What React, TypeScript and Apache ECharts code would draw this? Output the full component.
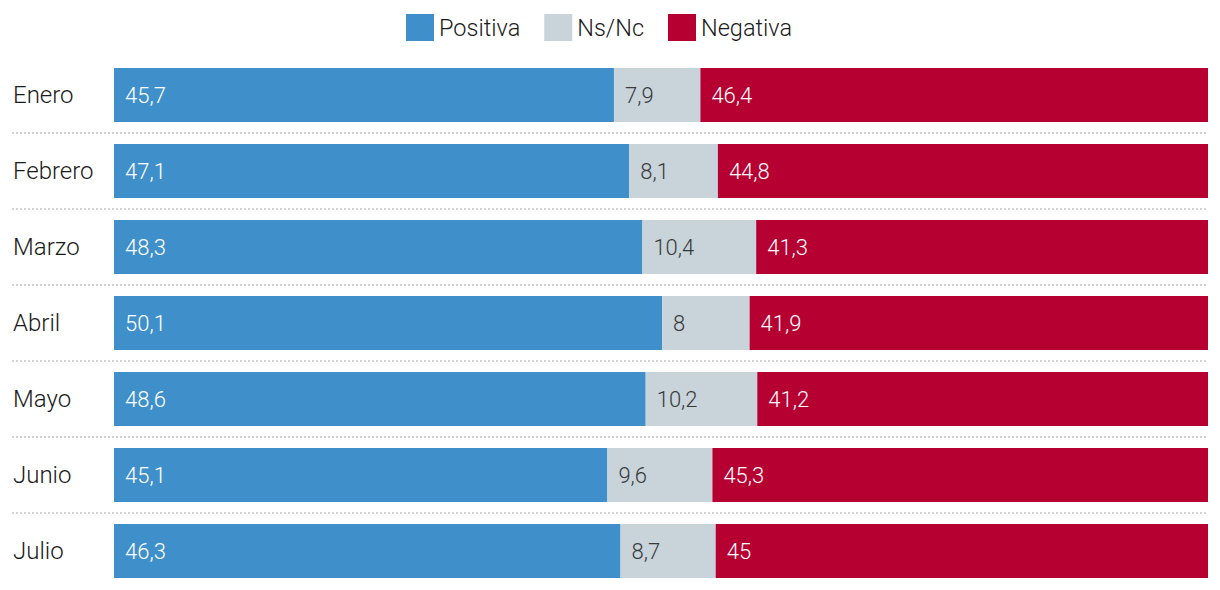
import React, { useEffect, useRef } from "react";
import * as echarts from "echarts";

const categories = ["Enero", "Febrero", "Marzo", "Abril", "Mayo", "Junio", "Julio"];
const positiva = [45.7, 47.1, 48.3, 50.1, 48.6, 45.1, 46.3];
const nsnc = [7.9, 8.1, 10.4, 8, 10.2, 9.6, 8.7];
const negativa = [46.4, 44.8, 41.3, 41.9, 41.2, 45.3, 45];

const FONT = "Roboto, 'Noto Sans', sans-serif";

const fmt = (p: any) => String(p.value).replace(".", ",");

export default function App() {
  const ref = useRef<HTMLDivElement>(null);
  useEffect(() => {
    if (!ref.current) return;
    const chart = echarts.init(ref.current, null, { renderer: "svg" });
    const mkSeries = (name: string, data: number[], color: string, labelColor: string) => ({
      name,
      type: "bar",
      stack: "total",
      data,
      barWidth: 54,
      itemStyle: { color },
      emphasis: { disabled: true },
      label: {
        show: true,
        position: "insideLeft",
        distance: 11,
        formatter: fmt,
        color: labelColor,
        fontSize: 22,
        fontWeight: 300,
        fontFamily: FONT,
      },
    });
    chart.setOption({
      animation: false,
      legend: {
        top: 14,
        left: 406,
        padding: 0,
        itemWidth: 28,
        itemHeight: 27,
        itemGap: 24,
        icon: "rect",
        textStyle: { fontSize: 23.5, fontWeight: 300, fontFamily: FONT, color: "#1a1a1a", lineHeight: 27 },
        selectedMode: false,
      },
      grid: { left: 114, right: 12, top: 57, bottom: 1 },
      xAxis: {
        type: "value",
        min: 0,
        max: 100,
        show: false,
      },
      yAxis: {
        type: "category",
        data: categories,
        inverse: true,
        axisLine: { show: false },
        axisTick: { show: false },
        splitLine: { show: false },
        axisLabel: {
          align: "left",
          margin: 101,
          fontSize: 24,
          fontWeight: 300,
          fontFamily: FONT,
          color: "#1a1a1a",
        },
      },
      series: [
        mkSeries("Positiva", positiva, "#3f8fca", "#ffffff"),
        mkSeries("Ns/Nc", nsnc, "#c8d3da", "#3a3a3a"),
        mkSeries("Negativa", negativa, "#b70032", "#ffffff"),
      ],
    });
    const lines: any[] = [];
    for (let i = 0; i < categories.length - 1; i++) {
      const y1 = chart.convertToPixel({ yAxisIndex: 0 }, categories[i]) as number;
      const y2 = chart.convertToPixel({ yAxisIndex: 0 }, categories[i + 1]) as number;
      const y = Math.round((y1 + y2) / 2);
      lines.push({
        type: "line",
        shape: { x1: 12, y1: y, x2: 1208, y2: y },
        style: { stroke: "#d2d2d2", lineWidth: 2, lineDash: [2, 2] },
        silent: true,
      });
    }
    chart.setOption({ graphic: lines });
    return () => chart.dispose();
  }, []);
  return <div ref={ref} style={{ width: 1220, height: 590, position: "absolute", left: 0, top: 0 }} />;
}
